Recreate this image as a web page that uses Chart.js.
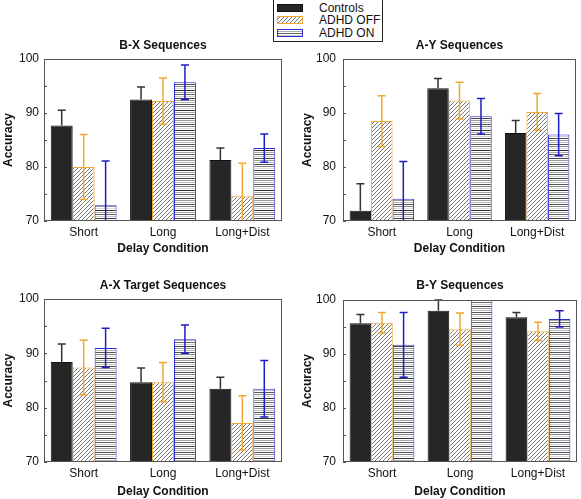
<!DOCTYPE html>
<html>
<head>
<meta charset="utf-8">
<script src="https://cdn.jsdelivr.net/npm/chart.js@4.4.0/dist/chart.umd.min.js"></script>
<style>
  body { margin: 0; background: #fff; font-family: "Liberation Sans", Arial, sans-serif; }
  #wrap { position: relative; width: 581px; height: 499px; overflow: hidden; }
  canvas.panel { position: absolute; }
  #legend { position: absolute; left: 273px; top: -1px; width: 108px; height: 41px; border: 1px solid #222; background: #fff; }
  .row { position: absolute; left: 3px; height: 12px; font-size: 12px; line-height: 12px; color: #111; white-space: nowrap; }
  .row canvas { position: absolute; left: 0; top: 2px; }
  .row span { position: absolute; left: 42px; top: 0; }
</style>
</head>
<body>
<div id="wrap">
  <div id="legend"></div>
  <canvas class="panel" id="bx" width="290" height="228" style="left:0;top:30px"></canvas>
  <canvas class="panel" id="ay" width="291" height="228" style="left:290px;top:30px"></canvas>
  <canvas class="panel" id="ax" width="290" height="241" style="left:0;top:258px"></canvas>
  <canvas class="panel" id="by" width="291" height="241" style="left:290px;top:258px"></canvas>
</div>
<script>
  // values (mean accuracy, % and SE half-widths)
  const categories = ['Short', 'Long', 'Long+Dist'];
  const seriesNames = ['Controls', 'ADHD OFF', 'ADHD ON'];

  const bxControls = [87.7, 92.5, 81.3];
  const bxControlsErr = [2.8, 2.3, 2.2];
  const bxOff = [80.0, 92.2, 74.6];
  const bxOffErr = [6.0, 4.3, 6.1];
  const bxOn = [72.9, 95.7, 83.5];
  const bxOnErr = [8.2, 3.2, 2.6];

  const ayControls = [71.9, 94.6, 86.3];
  const ayControlsErr = [5.0, 1.8, 2.3];
  const ayOff = [88.5, 92.3, 90.2];
  const ayOffErr = [4.7, 3.4, 3.4];
  const ayOn = [74.1, 89.4, 86.0];
  const ayOnErr = [6.9, 3.3, 3.9];

  const axControls = [88.4, 84.7, 83.5];
  const axControlsErr = [3.3, 2.6, 2.1];
  const axOff = [87.4, 84.7, 77.2];
  const axOffErr = [5.0, 3.6, 5.0];
  const axOn = [91.0, 92.6, 83.5];
  const axOnErr = [3.6, 2.6, 5.2];

  const byControls = [95.7, 98.0, 96.8];
  const byControlsErr = [1.6, 2.0, 0.9];
  const byOff = [95.8, 94.6, 94.2];
  const byOffErr = [1.9, 3.0, 1.7];
  const byOn = [91.7, 100.0, 96.5];
  const byOnErr = [6.0, 0, 1.5];

  const yMin = 70, yMax = 100;

  Chart.defaults.font.family = "'Liberation Sans', Arial, sans-serif";
  Chart.defaults.font.size = 12;
  Chart.defaults.color = '#111';

  const orange = '#f0a832';
  const blue = '#2b2bd4';

  function hatchPattern() {
    var c = document.createElement('canvas');
    c.width = 4; c.height = 4;
    var g = c.getContext('2d');
    g.fillStyle = '#fff';
    g.fillRect(0, 0, 4, 4);
    g.strokeStyle = '#666';
    g.lineWidth = 0.9;
    g.beginPath();
    g.moveTo(-1, 5); g.lineTo(5, -1);
    g.moveTo(-1, 1); g.lineTo(1, -1);
    g.moveTo(3, 5); g.lineTo(5, 3);
    g.stroke();
    return g.createPattern(c, 'repeat');
  }

  function stripePattern() {
    var shades = ['#333', '#aaa', '#666', '#ccc', '#444', '#999', '#bbb', '#555', '#888', '#ddd'];
    var c = document.createElement('canvas');
    c.width = 4; c.height = shades.length * 2;
    var g = c.getContext('2d');
    g.fillStyle = '#fff';
    g.fillRect(0, 0, c.width, c.height);
    shades.forEach(function (s, i) {
      g.fillStyle = s;
      g.fillRect(0, i * 2, 4, 1);
    });
    return g.createPattern(c, 'repeat');
  }

  const hatch = hatchPattern();
  const stripes = stripePattern();

  // whiskers: controls only upward, ADHD groups both ways
  const errorBars = {
    id: 'errorBars',
    afterDatasetsDraw(chart) {
      const ctx = chart.ctx, y = chart.scales.y, a = chart.chartArea;
      ctx.save();
      ctx.beginPath();
      ctx.rect(a.left, a.top - 1, a.right - a.left, a.bottom - a.top + 1);
      ctx.clip();
      chart.data.datasets.forEach(function (ds, i) {
        const meta = chart.getDatasetMeta(i);
        ctx.strokeStyle = ds.errorColor;
        ctx.lineWidth = 1.5;
        meta.data.forEach(function (bar, j) {
          const v = ds.data[j], e = ds.errors[j];
          if (!e) return;
          const top = y.getPixelForValue(v + e);
          const bot = ds.upOnly ? y.getPixelForValue(v) : y.getPixelForValue(v - e);
          ctx.beginPath();
          ctx.moveTo(bar.x, top); ctx.lineTo(bar.x, bot);
          ctx.moveTo(bar.x - 4, top); ctx.lineTo(bar.x + 4, top);
          if (!ds.upOnly) { ctx.moveTo(bar.x - 4, bot); ctx.lineTo(bar.x + 4, bot); }
          ctx.stroke();
        });
      });
      ctx.restore();
    }
  };

  // box around the plot and small inward ticks on the y axis
  const frame = {
    id: 'frame',
    afterDraw(chart) {
      const ctx = chart.ctx, a = chart.chartArea, y = chart.scales.y;
      ctx.save();
      ctx.strokeStyle = '#555';
      ctx.lineWidth = 1;
      ctx.strokeRect(Math.round(a.left) + 0.5, Math.round(a.top) + 0.5,
        Math.round(a.right - a.left) - 1, Math.round(a.bottom - a.top) - 1);
      ctx.beginPath();
      y.ticks.forEach(function (t) {
        const py = Math.round(y.getPixelForValue(t.value)) + 0.5;
        ctx.moveTo(a.left, py); ctx.lineTo(a.left + 3, py);
      });
      ctx.stroke();
      ctx.restore();
    }
  };

  function makePanel(id, title, ctrl, ctrlErr, off, offErr, on, onErr, box) {
    const ctx = document.getElementById(id);
    return new Chart(ctx, {
      type: 'bar',
      data: {
        labels: categories,
        datasets: [
          { label: seriesNames[0], data: ctrl, errors: ctrlErr, upOnly: true, errorColor: '#333',
            backgroundColor: '#262626', borderColor: '#111', borderWidth: 1 },
          { label: seriesNames[1], data: off, errors: offErr, errorColor: orange,
            backgroundColor: hatch, borderColor: orange, borderWidth: 1 },
          { label: seriesNames[2], data: on, errors: onErr, errorColor: '#1c1cc8',
            backgroundColor: stripes, borderColor: blue, borderWidth: 1 }
        ]
      },
      options: {
        responsive: false,
        animation: false,
        devicePixelRatio: 1,
        layout: { padding: { left: 0, right: box.padRight, top: 0, bottom: 0 } },
        datasets: { bar: { barPercentage: 1, categoryPercentage: 0.83 } },
        plugins: {
          legend: { display: false },
          tooltip: { enabled: false },
          title: {
            display: true, text: title, fullSize: false, color: '#111',
            font: { size: 12, weight: 'bold', lineHeight: 1 },
            padding: { top: box.titleTop, bottom: box.titleBottom }
          }
        },
        scales: {
          x: {
            grid: { display: false, drawTicks: false },
            border: { display: false },
            ticks: { padding: 4, color: '#111', font: { size: 12 } },
            title: { display: true, text: 'Delay Condition', color: '#111',
              font: { size: 12, weight: 'bold', lineHeight: 1 },
              padding: { top: 0, bottom: box.xTitleBottom } },
            afterFit: function (s) { s.height = 37; }
          },
          y: {
            min: yMin, max: yMax,
            grid: { display: false, drawTicks: false },
            border: { display: false },
            ticks: { stepSize: 5, padding: box.yTickPad, color: '#111', font: { size: 12 },
              autoSkip: false,
              callback: function (v) { return v % 10 === 0 ? v : ''; } },
            title: { display: true, text: 'Accuracy', color: '#111',
              font: { size: 12, weight: 'bold', lineHeight: 1 },
              padding: { top: box.yTitleTop, bottom: 0 } },
            afterFit: function (s) { s.width = box.yWidth; }
          }
        }
      },
      plugins: [errorBars, frame]
    });
  }

  makePanel('bx', 'B-X Sequences', bxControls, bxControlsErr, bxOff, bxOffErr, bxOn, bxOnErr,
    { yWidth: 44, padRight: 8, titleTop: 10, titleBottom: 7, xTitleBottom: 3, yTickPad: 5, yTitleTop: 3 });
  makePanel('ay', 'A-Y Sequences', ayControls, ayControlsErr, ayOff, ayOffErr, ayOn, ayOnErr,
    { yWidth: 53, padRight: 5, titleTop: 10, titleBottom: 7, xTitleBottom: 3, yTickPad: 7, yTitleTop: 12 });
  makePanel('ax', 'A-X Target Sequences', axControls, axControlsErr, axOff, axOffErr, axOn, axOnErr,
    { yWidth: 44, padRight: 8, titleTop: 22, titleBottom: 7, xTitleBottom: 1, yTickPad: 5, yTitleTop: 3 });
  makePanel('by', 'B-Y Sequences', byControls, byControlsErr, byOff, byOffErr, byOn, byOnErr,
    { yWidth: 53, padRight: 4, titleTop: 22, titleBottom: 8, xTitleBottom: 1, yTickPad: 7, yTitleTop: 12 });

  // shared legend at the top
  (function buildLegend() {
    const legend = document.getElementById('legend');
    const fills = ['#262626', hatch, stripes];
    const borders = ['#111', orange, blue];
    seriesNames.forEach(function (name, i) {
      const row = document.createElement('div');
      row.className = 'row';
      row.style.top = (2 + i * 12.3) + 'px';
      const sw = document.createElement('canvas');
      sw.width = 26; sw.height = 8;
      const g = sw.getContext('2d');
      g.fillStyle = fills[i];
      g.fillRect(0, 0, 26, 8);
      g.strokeStyle = borders[i];
      g.lineWidth = 1;
      g.strokeRect(0.5, 0.5, 25, 7);
      const label = document.createElement('span');
      label.textContent = name;
      row.appendChild(sw);
      row.appendChild(label);
      legend.appendChild(row);
    });
  })();
</script>
</body>
</html>
